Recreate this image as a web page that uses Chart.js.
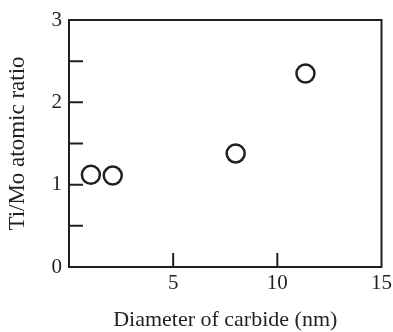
<!DOCTYPE html>
<html>
<head>
<meta charset="utf-8">
<script src="https://cdn.jsdelivr.net/npm/chart.js@4"></script>
<style>
  html, body { margin: 0; padding: 0; background: #fff; }
  #wrap { width: 393px; height: 332px; }
</style>
</head>
<body>
<div id="wrap"><canvas id="chart" width="393" height="332"></canvas></div>
<script>
// values
var diameters = [1.05, 2.1, 8.0, 11.35];
var ratios = [1.12, 1.11, 1.38, 2.35];
var xTicks = [5, 10, 15];
var yTicks = [0, 1, 2, 3];

var ink = '#231f20';
var serif = "'Liberation Serif', 'Times New Roman', serif";

// frame + inward tick marks
var frameTicks = {
    id: 'frameTicks',
    afterDraw: function(chart){
        var ctx = chart.ctx, a = chart.chartArea;
        var xs = chart.scales.x, ys = chart.scales.y;
        ctx.save();
        ctx.strokeStyle = ink;
        ctx.lineWidth = 2;
        ctx.strokeRect(a.left, a.top, a.right - a.left, a.bottom - a.top);
        ctx.beginPath();
        xs.ticks.forEach(function(t){
            if (t.value <= xs.min || t.value >= xs.max) return;
            var px = xs.getPixelForValue(t.value);
            ctx.moveTo(px, a.bottom);
            ctx.lineTo(px, a.bottom - 14);
        });
        ys.ticks.forEach(function(t){
            if (t.value <= ys.min || t.value >= ys.max) return;
            var py = ys.getPixelForValue(t.value);
            ctx.moveTo(a.left, py);
            ctx.lineTo(a.left + 14, py);
        });
        ctx.stroke();
        ctx.restore();
    }
};

new Chart(document.getElementById('chart'), {
    type: 'scatter',
    data: {
        datasets: [{
            data: diameters.map(function(d, i){ return {x: d, y: ratios[i]}; }),
            pointStyle: 'circle',
            pointRadius: 9,
            pointBorderWidth: 2.5,
            pointBorderColor: ink,
            pointBackgroundColor: 'rgba(0,0,0,0)',
            pointHoverRadius: 9
        }]
    },
    options: {
        responsive: false,
        animation: false,
        layout: { padding: { top: 20, right: 11, left: 0, bottom: 0 } },
        plugins: { legend: { display: false }, tooltip: { enabled: false } },
        scales: {
            x: {
                type: 'linear', min: 0, max: 15,
                grid: { display: false, drawTicks: false },
                border: { display: false },
                ticks: {
                    stepSize: 5, padding: 4, color: ink, maxRotation: 0,
                    font: { family: serif, size: 21 },
                    callback: function(v){ return xTicks.indexOf(v) >= 0 ? String(v) : ''; }
                },
                title: {
                    display: true, text: 'Diameter of carbide (nm)', color: ink,
                    font: { family: serif, size: 22, lineHeight: 1 }, padding: { top: 0, bottom: 1 }
                },
                afterFit: function(s){ s.height = 65; s.paddingLeft = 0; s.paddingRight = 0; }
            },
            y: {
                type: 'linear', min: 0, max: 3,
                grid: { display: false, drawTicks: false },
                border: { display: false },
                ticks: {
                    stepSize: 0.5, padding: 7, color: ink,
                    font: { family: serif, size: 21 },
                    callback: function(v){ return yTicks.indexOf(v) >= 0 ? String(v) : ''; }
                },
                title: {
                    display: true, text: 'Ti/Mo atomic ratio', color: ink,
                    font: { family: serif, size: 23, lineHeight: 1 }, padding: { top: 6, bottom: 0 }
                },
                afterFit: function(s){ s.width = 69; s.paddingTop = 0; s.paddingBottom = 0; }
            }
        }
    },
    plugins: [frameTicks]
});
</script>
</body>
</html>
